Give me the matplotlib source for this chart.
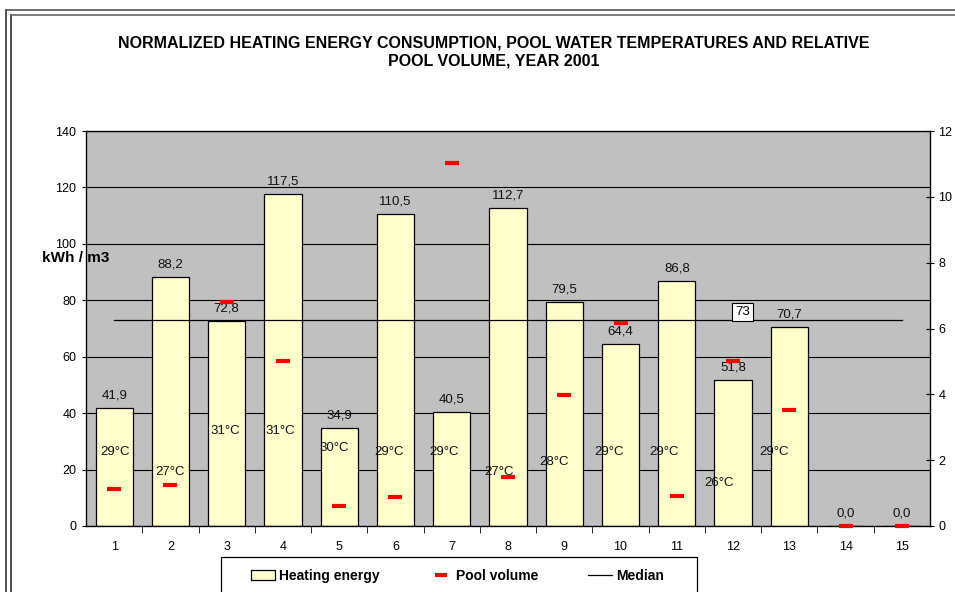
import matplotlib.pyplot as plt
from matplotlib.lines import Line2D
from matplotlib.patches import Patch, Rectangle

plt.rcParams['font.family'] = ['Liberation Sans', 'DejaVu Sans']

# data
pools = list(range(1, 16))
heating = [41.9, 88.2, 72.8, 117.5, 34.9, 110.5, 40.5, 112.7, 79.5, 64.4, 86.8, 51.8, 70.7, 0.0, 0.0]
pool_volume = [1.13, 1.26, 6.79, 5.02, 0.62, 0.88, 11.03, 1.50, 3.99, 6.17, 0.92, 5.02, 3.51, 0.0, 0.0]
temps = ['29°C', '27°C', '31°C', '31°C', '30°C', '29°C', '29°C', '27°C', '28°C', '29°C', '29°C', '26°C', '29°C']
temp_label_y = [26.3, 19.3, 33.8, 33.8, 27.8, 26.3, 26.3, 19.3, 22.6, 26.3, 26.3, 15.1, 26.3]
median = 73

fig = plt.figure(figsize=(9.55, 5.92), dpi=100)
ax = fig.add_axes([86 / 955, 66 / 592, 844 / 955, 395 / 592])
ax.set_facecolor('#C0C0C0')

ax.set_xlim(0.5, 15.5)
ax.set_ylim(0, 140)
ax.set_yticks(range(0, 141, 20))
ax.yaxis.grid(True, color='black', lw=0.8)
ax.set_axisbelow(True)

ax.bar(pools, heating, width=0.66, color='#FFFFCC', edgecolor='black', lw=0.9, zorder=2)
for x, v in zip(pools, heating):
    ax.annotate(f'{v:.1f}'.replace('.', ','), (x, v), xytext=(0, 9), textcoords='offset points',
                ha='center', va='center', fontsize=9.5, color='#111111', zorder=5)

# temperature labels
for i, (t, y) in enumerate(zip(temps, temp_label_y)):
    ax.text(1.02 + i * 0.975, y, t, ha='center', va='center', fontsize=9.5, color='#111111', zorder=4)

# median
ax.plot([1, 15], [median, median], color='black', lw=0.9, zorder=4)
ax.text(12.17, 75.9, str(median), ha='center', va='center', fontsize=9.5, zorder=6,
        bbox=dict(facecolor='white', edgecolor='black', lw=0.8, pad=2))

ax.set_xticks(pools)
ax.set_xticks([p + 0.5 for p in pools[:-1]], minor=True)
ax.tick_params(axis='x', which='major', length=0, pad=11, labelsize=9)
ax.tick_params(axis='x', which='minor', length=5, direction='out')
ax.tick_params(axis='y', length=3, pad=4, labelsize=9)
for s in ax.spines.values():
    s.set_linewidth(0.9)

ax.text(-0.052, 95, 'kWh / m3', transform=ax.get_yaxis_transform(), ha='left', va='center',
        fontsize=11, fontweight='bold', zorder=10)

ax2 = ax.twinx()
ax2.set_ylim(0, 12)
ax2.set_yticks(range(0, 13, 2))
ax2.tick_params(axis='y', direction='inout', length=6, pad=3, labelsize=9)
ax2.plot(pools, pool_volume, ls='none', marker='_', ms=10, mew=3, color='#FF0000',
         zorder=5, clip_on=False)

fig.text(494 / 955, 1 - 52 / 592,
         'NORMALIZED HEATING ENERGY CONSUMPTION, POOL WATER TEMPERATURES AND RELATIVE\nPOOL VOLUME, YEAR 2001',
         ha='center', va='center', fontsize=11.5, fontweight='bold', linespacing=1.3)

# legend box runs past the bottom edge like in the original
fig.add_artist(Rectangle((221 / 955, -0.05), 476 / 955, 0.05 + 35 / 592, transform=fig.transFigure,
                         facecolor='white', edgecolor='black', lw=0.9))
handles = [Patch(facecolor='#FFFFCC', edgecolor='black', lw=0.9),
           Line2D([], [], ls='none', marker='_', ms=8, mew=3, color='#FF0000'),
           Line2D([], [], color='black', lw=0.9)]
leg = fig.legend(handles, ['Heating energy', 'Pool volume', 'Median'], ncol=3,
                 loc='center left', bbox_to_anchor=(251 / 955, 1 - 576 / 592),
                 frameon=False, borderpad=0, borderaxespad=0,
                 columnspacing=3.55, handlelength=1.7, handletextpad=0.3,
                 prop=dict(size=10, weight='bold'))

# double frame around the chart
fig.add_artist(Line2D([6 / 955, 6 / 955], [0, 1 - 10 / 592], transform=fig.transFigure, color='#333333', lw=1.2))
fig.add_artist(Line2D([6 / 955, 1], [1 - 10 / 592, 1 - 10 / 592], transform=fig.transFigure, color='#555555', lw=1.2))
fig.add_artist(Line2D([11 / 955, 11 / 955], [0, 1 - 15 / 592], transform=fig.transFigure, color='#333333', lw=1.2))
fig.add_artist(Line2D([11 / 955, 1], [1 - 15 / 592, 1 - 15 / 592], transform=fig.transFigure, color='#666666', lw=1.2))

fig.savefig('out.png', dpi=100)
